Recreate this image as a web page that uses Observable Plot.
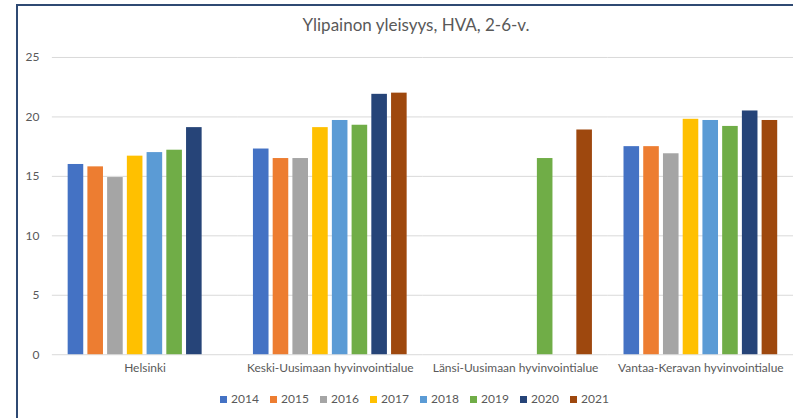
<!DOCTYPE html>
<html>
<head>
<meta charset="utf-8">
<script src="https://cdn.jsdelivr.net/npm/d3@7"></script>
<script src="https://cdn.jsdelivr.net/npm/@observablehq/plot@0.6"></script>
<style>
  html, body { margin: 0; padding: 0; background: #fff; }
  #wrap { position: relative; width: 793px; height: 418px; overflow: hidden; font-family: Lato, "Open Sans", sans-serif; color: #595959; }
  #border { position: absolute; left: 16px; top: 4px; width: 800px; height: 420px; border-left: 2px solid #2F4A73; border-top: 2px solid #2F4A73; box-sizing: border-box; }
  #title { position: absolute; left: 40px; width: 752px; top: 15px; text-align: center; font-size: 17px; line-height: 20px; color: #595959; }
  #chart { position: absolute; left: 0; top: 45px; }
  #legend { position: absolute; left: 0; width: 840px; top: 392px; display: flex; justify-content: center; font-size: 12px; line-height: 14px; }
  .item { display: flex; align-items: center; width: 50px; }
  .sw { width: 7px; height: 7px; margin-right: 4px; }
</style>
</head>
<body>
<div id="wrap">
  <div id="border"></div>
  <div id="title">Ylipainon yleisyys, HVA, 2-6-v.</div>
  <div id="chart"></div>
  <div id="legend"></div>
</div>
<script>
const categories = ["Helsinki", "Keski-Uusimaan hyvinvointialue", "Länsi-Uusimaan hyvinvointialue", "Vantaa-Keravan hyvinvointialue"];
const years = ["2014", "2015", "2016", "2017", "2018", "2019", "2020", "2021"];
const colors = ["#4472C4", "#ED7D31", "#A5A5A5", "#FFC000", "#5B9BD5", "#70AD47", "#264478", "#9E480E"];
const helsinki = [16.0, 15.8, 14.9, 16.7, 17.0, 17.2, 19.1, null];
const keski = [17.3, 16.5, 16.5, 19.1, 19.7, 19.3, 21.9, 22.0];
const lansi = [null, null, null, null, null, 16.5, null, 18.9];
const vantaa = [17.5, 17.5, 16.9, 19.8, 19.7, 19.2, 20.5, 19.7];
const yTicks = [0, 5, 10, 15, 20, 25];

const series = [helsinki, keski, lansi, vantaa];
const data = [];
categories.forEach((c, i) => {
  years.forEach((y, j) => {
    const v = series[i][j];
    if (v != null) data.push({category: c, year: y, value: v});
  });
});

const chart = Plot.plot({
  width: 795,
  height: 340,
  marginLeft: 52,
  marginRight: 0,
  marginTop: 12,
  marginBottom: 30,
  style: {fontFamily: "Lato, 'Open Sans', sans-serif", fontSize: "12px", color: "#595959", background: "transparent"},
  fx: {domain: categories, padding: 0, round: false, label: null, axis: "bottom", tickSize: 0, tickPadding: 9},
  x: {domain: years, paddingInner: 0.21, paddingOuter: 0.8, round: false, axis: null},
  y: {domain: [0, 25], ticks: yTicks, label: null, tickSize: 0, tickPadding: 13},
  color: {domain: years, range: colors},
  marks: [
    Plot.ruleY(yTicks, {stroke: "#d9d9d9", strokeWidth: 1}),
    Plot.barY(data, {fx: "category", x: "year", y: "value", fill: "year"})
  ]
});
document.getElementById("chart").appendChild(chart);

const legend = document.getElementById("legend");
years.forEach((y, i) => {
  const it = document.createElement("div");
  it.className = "item";
  const sw = document.createElement("div");
  sw.className = "sw";
  sw.style.background = colors[i];
  const t = document.createElement("span");
  t.textContent = y;
  it.appendChild(sw);
  it.appendChild(t);
  legend.appendChild(it);
});
</script>
</body>
</html>
